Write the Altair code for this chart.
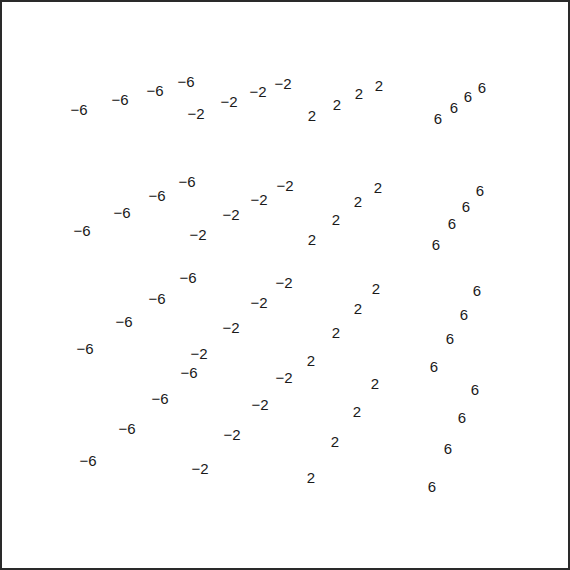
import altair as alt
import pandas as pd

# label values (x coordinate of the 3-D grid) per layer, group and depth
values = [-6, -2, 2, 6]

# projected positions, layer by layer (top to bottom),
# group by group (-6, -2, 2, 6), front to back
u = [
    79, 120, 155, 186,   196, 229, 258, 283,   312, 337, 359, 379,   438, 454, 468, 482,
    82, 122, 157, 187,   198, 231, 259, 285,   312, 336, 358, 378,   436, 452, 466, 480,
    85, 124, 157, 188,   199, 231, 259, 284,   311, 336, 358, 376,   434, 450, 464, 477,
    88, 127, 160, 189,   200, 232, 260, 284,   311, 335, 357, 375,   432, 448, 462, 475,
]
v = [
    109, 99, 90, 81,     113, 101, 91, 83,     115, 104, 93, 85,     118, 107, 96, 87,
    230, 212, 195, 181,  234, 214, 199, 185,   239, 219, 201, 187,   244, 223, 206, 190,
    348, 321, 298, 277,  353, 327, 302, 282,   360, 332, 308, 288,   366, 338, 314, 290,
    460, 428, 398, 372,  468, 434, 404, 377,   477, 441, 411, 383,   486, 448, 417, 389,
]

labels = []
for layer in range(4):
    for val in values:
        for depth in range(4):
            labels.append(val)

df = pd.DataFrame({"u": u, "v": v, "value": labels})

chart = (
    alt.Chart(df)
    .mark_text(font="Liberation Sans", fontSize=15, color="#1a1a1a", align="center",
               baseline="middle", dy=1)
    .encode(
        x=alt.X("u:Q", scale=alt.Scale(domain=[1, 569], nice=False, zero=False), axis=None),
        y=alt.Y("v:Q", scale=alt.Scale(domain=[1, 569], nice=False, zero=False, reverse=True), axis=None),
        text=alt.Text("value:Q", format="d"),
    )
    .properties(width=568, height=568, padding={"left": 1, "top": 1, "right": 1, "bottom": 1},
                background="white")
    .configure_view(stroke="#2a2a2a", strokeWidth=2)
)

chart.save("out.html", embed_options={"renderer": "svg", "actions": False})
